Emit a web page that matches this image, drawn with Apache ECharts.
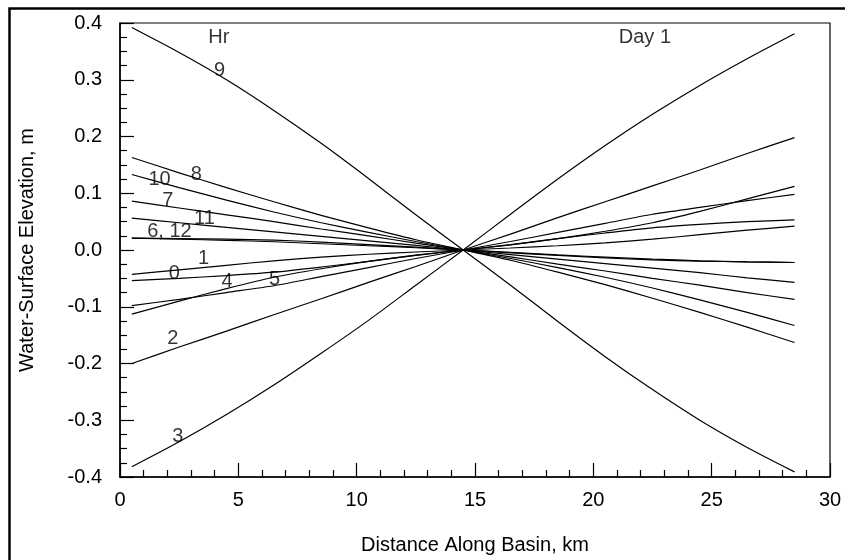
<!DOCTYPE html>
<html>
<head>
<meta charset="utf-8">
<script src="https://cdn.jsdelivr.net/npm/echarts@6/dist/echarts.min.js"></script>
<style>
html,body{margin:0;padding:0;background:#fff;}
#c{width:845px;height:560px;}
</style>
</head>
<body>
<div id="c"></div>
<script>
// Distance along basin (km)
const xKm = [0.5, 2.5, 4.5, 6.5, 8.5, 10.5, 12.5, 14.5, 16.5, 18.5, 20.5, 22.5, 24.5, 26.5, 28.5];
// Water-surface elevation (m) for each hour
const hr0  = [-0.054, -0.050, -0.045, -0.039, -0.030, -0.020, -0.0095, 0, 0.0095, 0.020, 0.030, 0.039, 0.045, 0.050, 0.053];
const hr1  = [-0.043, -0.035, -0.027, -0.019, -0.0125, -0.0075, -0.0035, 0, 0.0035, 0.0075, 0.0125, 0.019, 0.027, 0.035, 0.042];
const hr2  = [-0.200, -0.171, -0.143, -0.114, -0.086, -0.057, -0.029, 0, 0.028, 0.057, 0.085, 0.113, 0.141, 0.170, 0.198];
const hr3  = [-0.382, -0.338, -0.290, -0.238, -0.182, -0.124, -0.062, 0, 0.063, 0.125, 0.184, 0.239, 0.290, 0.337, 0.381];
const hr4  = [-0.098, -0.087, -0.075, -0.063, -0.047, -0.031, -0.015, 0, 0.015, 0.031, 0.047, 0.063, 0.075, 0.087, 0.098];
const hr5  = [-0.113, -0.090, -0.068, -0.048, -0.033, -0.020, -0.009, 0, 0.009, 0.020, 0.033, 0.048, 0.068, 0.090, 0.112];
const hr6  = [0.021, 0.020, 0.019, 0.0175, 0.014, 0.0095, 0.005, 0, -0.005, -0.0095, -0.014, -0.0175, -0.0195, -0.021, -0.022];
const hr7  = [0.086, 0.074, 0.062, 0.050, 0.037, 0.025, 0.012, 0, -0.012, -0.025, -0.037, -0.050, -0.062, -0.075, -0.087];
const hr8  = [0.163, 0.136, 0.110, 0.085, 0.061, 0.039, 0.018, 0, -0.018, -0.039, -0.061, -0.085, -0.110, -0.136, -0.163];
const hr9  = [0.392, 0.348, 0.300, 0.246, 0.188, 0.126, 0.062, 0, -0.062, -0.126, -0.188, -0.246, -0.300, -0.348, -0.391];
const hr10 = [0.133, 0.110, 0.088, 0.067, 0.048, 0.031, 0.015, 0, -0.015, -0.031, -0.048, -0.067, -0.088, -0.110, -0.133];
const hr11 = [0.056, 0.048, 0.040, 0.032, 0.024, 0.016, 0.008, 0, -0.008, -0.016, -0.024, -0.032, -0.040, -0.049, -0.057];
const hr12 = [0.021, 0.019, 0.017, 0.0145, 0.011, 0.0075, 0.004, 0, -0.004, -0.0085, -0.0125, -0.016, -0.019, -0.021, -0.022];
const hourSeries = [hr0, hr1, hr2, hr3, hr4, hr5, hr6, hr7, hr8, hr9, hr10, hr11, hr12];

// In-plot annotations (text and anchor in data units)
const noteText = ['Hr', 'Day 1', '9', '8', '10', '7', '11', '6, 12', '1', '0', '4', '5', '2', '3'];
const noteX    = [4.18, 22.18, 4.21, 3.22, 1.67, 2.02, 3.57, 2.09, 3.53, 2.30, 4.52, 6.53, 2.23, 2.44];
const noteY    = [0.374, 0.375, 0.317, 0.133, 0.124, 0.088, 0.055, 0.032, -0.015, -0.042, -0.056, -0.052, -0.156, -0.329];

// Axis ticks
const xTicks = [0, 5, 10, 15, 20, 25, 30];
const yTicks = [-0.4, -0.3, -0.2, -0.1, 0.0, 0.1, 0.2, 0.3, 0.4];

const FONT = 'Liberation Sans, Arial, sans-serif';
const chart = echarts.init(document.getElementById('c'), null, {renderer: 'canvas'});

const series = hourSeries.map((vals, i) => ({
  name: 'Hr ' + i,
  type: 'line',
  data: xKm.map((x, j) => [x, vals[j]]),
  showSymbol: false,
  smooth: 0.25,
  lineStyle: {color: '#000', width: 1.2},
  silent: true,
  z: 3
}));

series.push({
  type: 'scatter',
  data: noteText.map((t, i) => [noteX[i], noteY[i], t]),
  symbolSize: 0,
  silent: true,
  z: 5,
  label: {
    show: true,
    position: 'inside',
    formatter: p => p.data[2],
    color: '#000',
    fontSize: 20,
    fontFamily: FONT
  }
});

chart.setOption({
  animation: false,
  backgroundColor: '#fff',
  grid: {left: 120, top: 23, width: 710, height: 454, show: true, borderColor: '#000', borderWidth: 1.2, backgroundColor: 'transparent'},
  xAxis: {
    type: 'value', min: xTicks[0], max: xTicks[xTicks.length - 1], interval: 5,
    name: 'Distance Along Basin, km', nameLocation: 'middle', nameGap: 58,
    nameTextStyle: {color: '#000', fontSize: 20, fontFamily: FONT},
    axisLine: {show: true, onZero: false, lineStyle: {color: '#000', width: 1.5}},
    axisTick: {show: true, inside: true, length: 14, lineStyle: {color: '#000', width: 1.2}},
    minorTick: {show: true, splitNumber: 5, length: 7, lineStyle: {color: '#000', width: 1.2}},
    axisLabel: {color: '#000', fontSize: 20, fontFamily: FONT, margin: 13},
    splitLine: {show: false}
  },
  yAxis: {
    type: 'value', min: yTicks[0], max: yTicks[yTicks.length - 1], interval: 0.1,
    name: 'Water-Surface Elevation, m', nameLocation: 'middle', nameGap: 83, nameRotate: 90,
    nameTextStyle: {color: '#000', fontSize: 20, fontFamily: FONT},
    axisLine: {show: true, onZero: false, lineStyle: {color: '#000', width: 1.5}},
    axisTick: {show: true, inside: true, length: 14, lineStyle: {color: '#000', width: 1.2}},
    minorTick: {show: true, splitNumber: 4, length: 7, lineStyle: {color: '#000', width: 1.2}},
    axisLabel: {color: '#000', fontSize: 20, fontFamily: FONT, margin: 18, formatter: v => v.toFixed(1)},
    splitLine: {show: false}
  },
  graphic: [{
    type: 'rect', left: 7, top: 6, silent: true,
    shape: {width: 900, height: 600},
    style: {fill: 'none', stroke: '#000', lineWidth: 2.5}
  }],
  series: series
});
</script>
</body>
</html>
